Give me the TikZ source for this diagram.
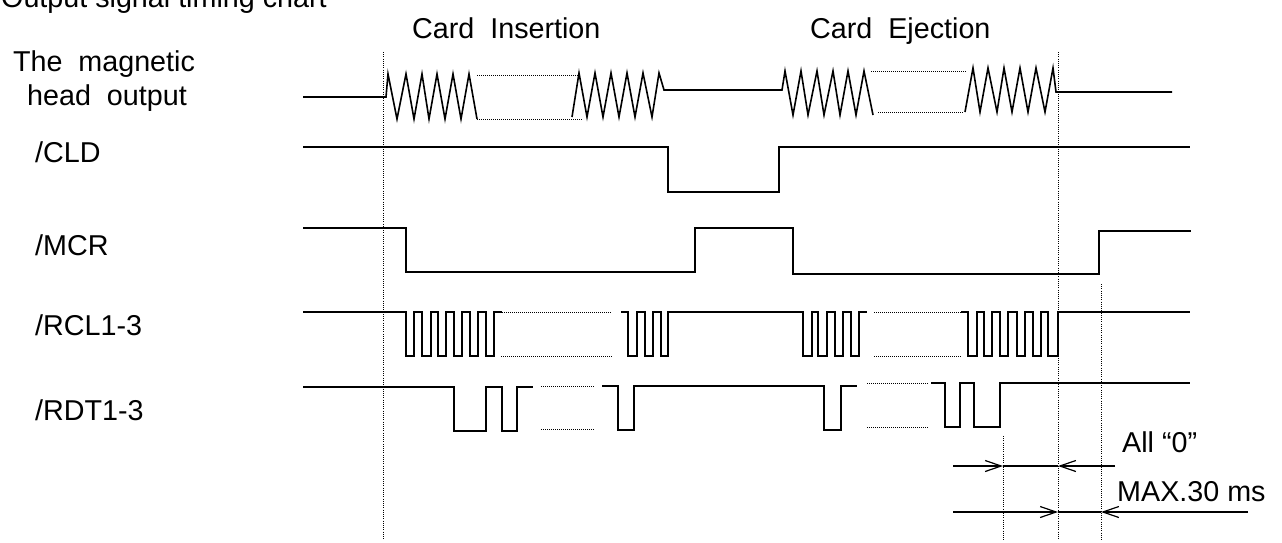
\documentclass[tikz,border=0pt]{standalone}
\usepackage{fontspec}
\setmainfont{Liberation Sans}
\usepackage{tikz}
\usetikzlibrary{arrows.meta}
\definecolor{ink}{RGB}{0,0,0}

\begin{document}
\begin{tikzpicture}[
    x=1pt, y=-1pt,
    font=\fontsize{28.7pt}{34pt}\selectfont,
    lbl/.style={inner sep=0pt, anchor=base west},
    mid/.style={inner sep=0pt, anchor=base},
    sig/.style={line width=1.6pt, draw=ink, line join=miter},
    gap/.style={line width=1pt, draw=ink, dash pattern=on 1pt off 1pt},
    guide/.style={line width=1pt, draw=ink, dash pattern=on 1pt off 1.2pt},
    dim/.style={line width=1.2pt, draw=ink, -{Straight Barb[length=16pt, width=11pt]}}
  ]
    \useasboundingbox (0,0) rectangle (1282,542);

    % Headings
    \node[lbl] (title) at (1,7) {Output signal timing chart};
    \node[lbl] (ins) at (412,38) {Card\ \ Insertion};
    \node[lbl] (ejc) at (810,38) {Card\ \ Ejection};

    % Signal names
    \node[mid] (head1) at (104,71) {The\ \ magnetic};
    \node[mid] (head2) at (107,105) {head\ \ output};
    \node[lbl] (cld) at (35,162) {/CLD};
    \node[lbl] (mcr) at (35,255) {/MCR};
    \node[lbl] (rcl) at (35,335) {/RCL1-3};
    \node[lbl] (rdt) at (35,420) {/RDT1-3};

    % Guide lines
    \draw[guide] (383,52) -- (383,540);
    \draw[guide] (1058,52) -- (1058,540);
    \draw[guide] (1101,284) -- (1101,540);
    \draw[guide] (1003,436) -- (1003,540);

    % Magnetic head output
    \draw[sig] (303,97) -- (386,97) -- (388,74) -- (397,119) -- (406,74) -- (414,119)
      -- (422,74) -- (429,119) -- (437,74) -- (445,119) -- (453,74) -- (461,119)
      -- (469,74) -- (477,119);
    \draw[gap] (477,75) -- (578,75);
    \draw[gap] (477,119) -- (583,119);
    \draw[sig] (572,117) -- (579,73) -- (587,117) -- (595,73) -- (603,117) -- (611,73)
      -- (619,117) -- (627,73) -- (635,117) -- (643,73) -- (652,117) -- (659,73)
      -- (664,90) -- (782,90) -- (785,71) -- (793,115) -- (801,71) -- (808,115)
      -- (817,71) -- (824,115) -- (833,71) -- (840,115) -- (848,71) -- (856,115)
      -- (864,71) -- (873,115);
    \draw[gap] (871,71) -- (966,71);
    \draw[gap] (878,112) -- (964,112);
    \draw[sig] (965,112) -- (973,68) -- (980,112) -- (988,68) -- (997,112) -- (1004,68)
      -- (1012,112) -- (1020,68) -- (1028,112) -- (1036,68) -- (1045,112) -- (1053,68)
      -- (1056,92) -- (1172,92);

    % /CLD
    \draw[sig] (303,147) -| (668,192) -| (779,147) -- (1190,147);

    % /MCR
    \draw[sig] (303,228) -| (406,272) -| (695,228) -| (793,274) -| (1099,231) -- (1191,231);

    % /RCL1-3
    \draw[sig] (303,312) -| (406,356) -| (414,312) -| (422,356) -| (431,312)
      -| (438,356) -| (446,312) -| (454,356) -| (462,312) -| (470,356) -| (478,312)
      -| (486,356) -| (494,312) -- (502,312);
    \draw[gap] (502,312) -- (612,312);
    \draw[gap] (501,356) -- (612,356);
    \draw[sig] (621,312) -| (628,356) -| (637,312) -| (645,356) -| (653,312)
      -| (661,356) -| (668,312) -| (803,356) -| (812,312) -| (818,356) -| (827,312)
      -| (835,356) -| (843,312) -| (851,356) -| (859,312) -- (867,312);
    \draw[gap] (874,312) -- (961,312);
    \draw[gap] (874,356) -- (961,356);
    \draw[sig] (961,312) -| (968,356) -| (977,312) -| (984,356) -| (992,312)
      -| (1000,356) -| (1008,312) -| (1017,356) -| (1025,312) -| (1033,356)
      -| (1041,312) -| (1048,356) -| (1058,312) -- (1190,312);

    % /RDT1-3
    \draw[sig] (303,387) -| (454,431) -| (486,387) -| (502,431) -| (517,387) -- (533,387);
    \draw[gap] (541,386) -- (595,386);
    \draw[gap] (541,429) -- (595,429);
    \draw[sig] (602,386) -| (618,430) -| (634,386) -| (824,430) -| (841,386) -- (857,386);
    \draw[gap] (867,383) -- (929,383);
    \draw[gap] (867,427) -- (929,427);
    \draw[sig] (931,383) -| (945,427) -| (960,383) -| (974,427) -| (1000,383) -- (1190,383);

    % Timing
    \coordinate (a0) at (953,466);
    \coordinate (a1) at (1003,466);
    \coordinate (a2) at (1058,466);
    \coordinate (a3) at (1115,466);
    \draw[dim] (a0) -- (a1);
    \draw[sig, line width=1.2pt] (a1) -- (a2);
    \draw[dim] (a3) -- (a2);
    \node[lbl] (all) at (1122,452) {All “0”};

    \coordinate (b0) at (953,512);
    \coordinate (b1) at (1058,512);
    \coordinate (b2) at (1101,512);
    \coordinate (b3) at (1248,512);
    \draw[dim] (b0) -- (b1);
    \draw[sig, line width=1.2pt] (b1) -- (b2);
    \draw[dim] (b3) -- (b2);
    \node[lbl] (max) at (1117,501) {MAX.30 ms};
\end{tikzpicture}
\end{document}
